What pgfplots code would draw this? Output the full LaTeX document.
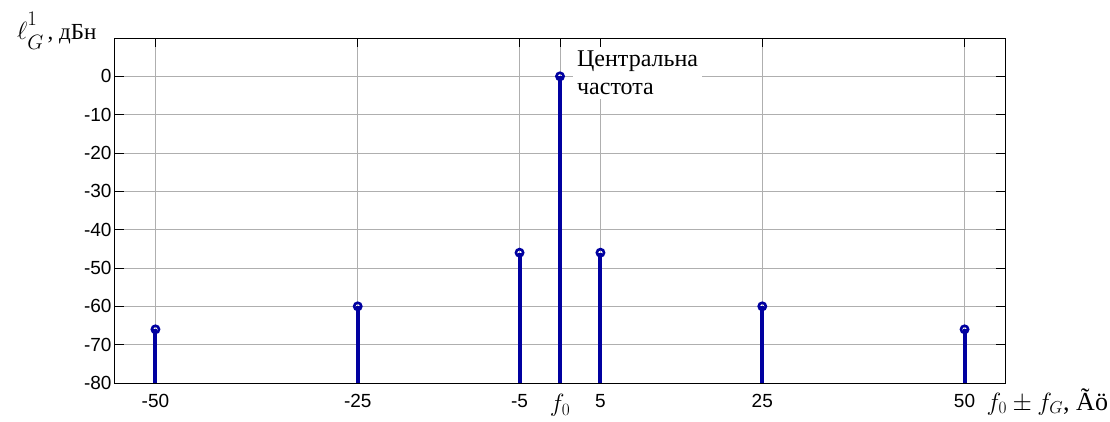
\documentclass[border=0pt]{standalone}
\usepackage{fontspec}
\setmainfont{Liberation Serif}
\newfontfamily\arialfont{Liberation Sans}
\usepackage{pgfplots}
\pgfplotsset{compat=1.18}
\definecolor{stemblue}{RGB}{0,0,160}
\definecolor{gridgray}{RGB}{175,175,175}

\begin{document}
\begin{tikzpicture}
\useasboundingbox (-115pt,-38pt) rectangle (995pt,383pt);
\begin{axis}[
	scale only axis,
	width=890pt, height=345pt,
	xmin=-55, xmax=55,
	ymin=-80, ymax=10,
	xtick={-50,-25,-5,0,5,25,50},
	xticklabels={-50,-25,-5,{\fontsize{24}{24}\selectfont$f_0$},5,25,50},
	ytick={-80,-70,...,0},
	yticklabels={-80,-70,-60,-50,-40,-30,-20,-10,0},
	ticklabel style={font=\arialfont\fontsize{19}{19}\selectfont},
	xticklabel style={yshift=-8pt},
	tick align=inside,
	xtick pos=both, ytick pos=both,
	major tick length=9pt,
	tick style={black, line width=0.8pt},
	axis line style={black, line width=1pt},
	grid=major,
	grid style={gridgray, line width=0.6pt},
	xlabel={$f_0\pm f_G$, Ãö},
	ylabel={{\fontsize{30}{30}\selectfont$\ell^{\raisebox{4pt}{$\scriptstyle 1$}}_{\raisebox{-4pt}{$\scriptstyle G$}}$}\,, дБн},
	every axis x label/.style={at={(rel axis cs:1,0)}, anchor=base west,
		xshift=-22pt, yshift=-27pt, font=\fontsize{26}{26}\selectfont},
	every axis y label/.style={at={(rel axis cs:0,1)}, anchor=base east,
		xshift=-15pt, yshift=-1pt, font=\fontsize{23}{23}\selectfont},
]
\addplot[stemblue, only marks, mark=o, mark size=3.6pt,
	mark options={fill=white, line width=2.6pt},
	error bars/.cd, y dir=minus, y explicit, error mark=none,
	error bar style={line width=4pt, stemblue}]
	coordinates {
	(-50,-66) -= (0,14)
	(-25,-60) -= (0,20)
	(-5,-46) -= (0,34)
	(0,0) -= (0,80)
	(5,-46) -= (0,34)
	(25,-60) -= (0,20)
	(50,-66) -= (0,14)
	};
\node[fill=white, anchor=north west, align=left, inner sep=4pt,
	font=\fontsize{24}{28}\selectfont] at (axis cs:1.6,7.8) {Центральна\\частота};
\end{axis}
\end{tikzpicture}
\end{document}
